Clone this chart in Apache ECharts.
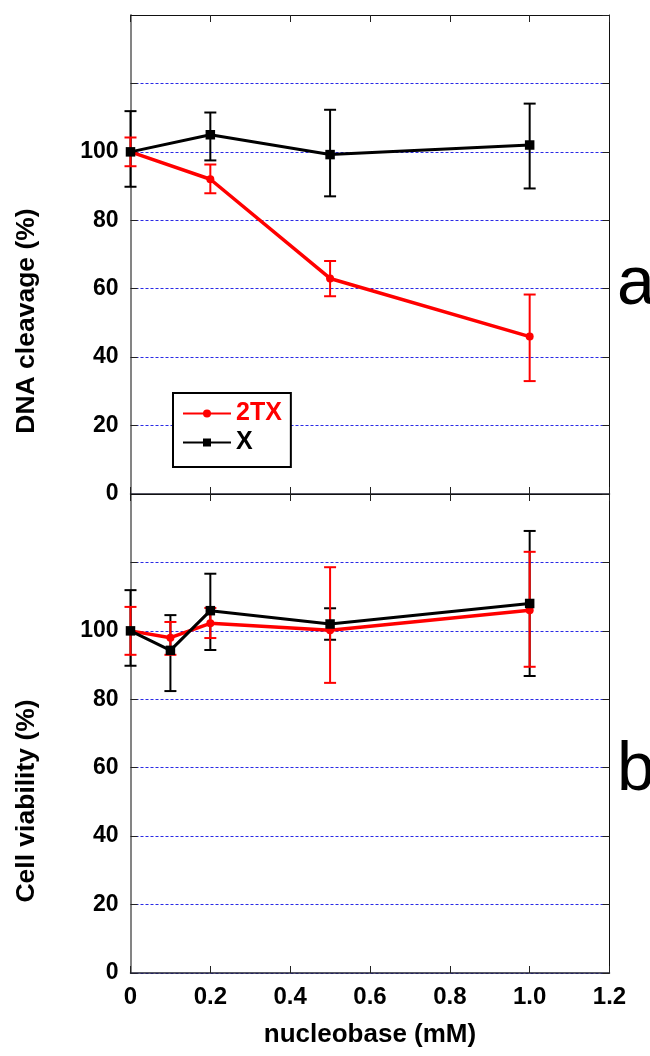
<!DOCTYPE html>
<html>
<head>
<meta charset="utf-8">
<script src="https://cdn.jsdelivr.net/npm/echarts@6/dist/echarts.min.js"></script>
<style>
html,body{margin:0;padding:0;background:#fff;}
#chart{width:650px;height:1056px;}
</style>
</head>
<body>
<div id="chart"></div>
<script>
// ---- data ----
const xTicks = [0, 0.2, 0.4, 0.6, 0.8, 1.0, 1.2];
const xTickLabels = ['0', '0.2', '0.4', '0.6', '0.8', '1.0', '1.2'];
const yTickLabels = [0, 20, 40, 60, 80, 100];

// panel a: DNA cleavage (%)
const concA = [0, 0.2, 0.5, 1.0];
const cleav2TX = [100, 92, 63, 46];
const cleav2TXLow = [95.8, 87.9, 57.8, 33];
const cleav2TXHigh = [104.2, 96.3, 68.1, 58.3];
const cleavX = [100, 105, 99.2, 102];
const cleavXLow = [89.8, 97.5, 87, 89.3];
const cleavXHigh = [111.9, 111.5, 112.3, 114.1];

// panel b: Cell viability (%)
const concB = [0, 0.1, 0.2, 0.5, 1.0];
const viab2TX = [100, 98, 102.2, 100.2, 106];
const viab2TXLow = [93, 93, 97.9, 84.8, 89.5];
const viab2TXHigh = [107, 102.6, 106.7, 118.6, 123.1];
const viabX = [100, 94.3, 105.9, 102, 108];
const viabXLow = [89.8, 82.4, 94.4, 97.4, 86.8];
const viabXHigh = [111.9, 104.6, 116.7, 106.6, 129.2];

const RED = '#ff0000', BLACK = '#000000';
const FONT = '"Liberation Sans", Arial, sans-serif';

function pts(xs, ys) { return xs.map((x, i) => [x, ys[i]]); }
function errPts(xs, lo, hi) { return xs.map((x, i) => [x, lo[i], hi[i]]); }

function errRender(color) {
  return function (params, api) {
    const x = api.value(0), lo = api.value(1), hi = api.value(2);
    const pLo = api.coord([x, lo]), pHi = api.coord([x, hi]);
    const h = 6;
    const st = { stroke: color, lineWidth: 2 };
    return {
      type: 'group',
      children: [
        { type: 'line', shape: { x1: pLo[0], y1: pLo[1], x2: pHi[0], y2: pHi[1] }, style: st },
        { type: 'line', shape: { x1: pLo[0] - h, y1: pLo[1], x2: pLo[0] + h, y2: pLo[1] }, style: st },
        { type: 'line', shape: { x1: pHi[0] - h, y1: pHi[1], x2: pHi[0] + h, y2: pHi[1] }, style: st }
      ]
    };
  };
}

const tickStyle = { show: true, inside: true, length: 7, lineStyle: { color: '#222', width: 1 } };

function xAxisDef(gridIndex, position, showLabels) {
  return {
    type: 'value', gridIndex: gridIndex, position: position,
    min: 0, max: 1.2, interval: 0.2, z: 5,
    axisLine: { show: true, onZero: false, lineStyle: { color: position === 'bottom' ? '#223' : '#111', width: position === 'bottom' ? 1.5 : 1 } },
    axisTick: tickStyle,
    axisLabel: showLabels ? {
      show: true, margin: 12, color: '#000', fontSize: 24, fontWeight: 'bold', fontFamily: FONT,
      formatter: function (v) { const i = xTicks.findIndex(t => Math.abs(t - v) < 1e-6); return i >= 0 ? xTickLabels[i] : ''; }
    } : { show: false },
    splitLine: { show: false }
  };
}

function yAxisDef(gridIndex, position) {
  const left = position === 'left';
  return {
    type: 'value', gridIndex: gridIndex, position: position,
    min: 0, max: 140, interval: 20, z: left ? 1 : 5,
    axisLine: { show: true, onZero: false, lineStyle: { color: left ? '#777' : '#111', width: left ? 1.8 : 1 } },
    axisTick: tickStyle,
    axisLabel: left ? {
      show: true, margin: 12, color: '#000', fontSize: 23, fontWeight: 'bold', fontFamily: FONT,
      formatter: function (v) { return yTickLabels.indexOf(Math.round(v)) >= 0 ? String(Math.round(v)) : ''; }
    } : { show: false },
    splitLine: left ? { show: true, lineStyle: { color: '#2a2ae6', width: 1, type: [3, 2] } } : { show: false }
  };
}

function panelSeries(xi, yi, xs, r, rLo, rHi, k, kLo, kHi) {
  return [
    { type: 'custom', name: 'errX', xAxisIndex: xi, yAxisIndex: yi, renderItem: errRender(BLACK),
      data: errPts(xs, kLo, kHi), encode: { x: 0, y: [1, 2] }, z: 2, silent: true },
    { type: 'custom', name: 'err2TX', xAxisIndex: xi, yAxisIndex: yi, renderItem: errRender(RED),
      data: errPts(xs, rLo, rHi), encode: { x: 0, y: [1, 2] }, z: 3, silent: true },
    { type: 'line', name: '2TX', xAxisIndex: xi, yAxisIndex: yi, data: pts(xs, r),
      symbol: 'circle', symbolSize: 8, lineStyle: { color: RED, width: 3.5 }, itemStyle: { color: RED },
      z: 4, silent: true },
    { type: 'line', name: 'X', xAxisIndex: xi, yAxisIndex: yi, data: pts(xs, k),
      symbol: 'rect', symbolSize: 9.5, lineStyle: { color: BLACK, width: 3 }, itemStyle: { color: BLACK },
      z: 5, silent: true }
  ];
}

const chart = echarts.init(document.getElementById('chart'), null, { renderer: 'canvas' });
const option = {
  animation: false,
  backgroundColor: '#fff',
  grid: [
    { left: 130.5, top: 15, width: 479, height: 479 },
    { left: 130.5, top: 494, width: 479, height: 479 }
  ],
  xAxis: [
    xAxisDef(0, 'bottom', false), xAxisDef(0, 'top', false),
    xAxisDef(1, 'bottom', true), xAxisDef(1, 'top', false)
  ],
  yAxis: [
    yAxisDef(0, 'left'), yAxisDef(0, 'right'),
    yAxisDef(1, 'left'), yAxisDef(1, 'right')
  ],
  legend: {
    show: true, orient: 'vertical', left: 173, top: 393,
    padding: [8, 9, 12, 9], itemGap: 4, itemWidth: 48, itemHeight: 10,
    borderColor: '#000', borderWidth: 2, backgroundColor: '#fff',
    selectedMode: false,
    textStyle: { fontSize: 25, fontWeight: 'bold', fontFamily: FONT },
    data: [
      { name: '2TX', textStyle: { color: RED } },
      { name: 'X', textStyle: { color: BLACK } }
    ]
  },
  graphic: [
    { type: 'text', x: 27, y: 321, rotation: Math.PI / 2,
      style: { text: 'DNA cleavage (%)', fill: '#000', font: 'bold 26.5px ' + FONT, textAlign: 'center', textVerticalAlign: 'middle' } },
    { type: 'text', x: 27, y: 801, rotation: Math.PI / 2,
      style: { text: 'Cell viability (%)', fill: '#000', font: 'bold 26.5px ' + FONT, textAlign: 'center', textVerticalAlign: 'middle' } },
    { type: 'text', x: 370, y: 1035,
      style: { text: 'nucleobase (mM)', fill: '#000', font: 'bold 26px ' + FONT, textAlign: 'center', textVerticalAlign: 'middle' } },
    { type: 'text', x: 617, y: 285,
      style: { text: 'a', fill: '#000', font: '68px ' + FONT, textAlign: 'left', textVerticalAlign: 'middle' } },
    { type: 'text', x: 617, y: 771,
      style: { text: 'b', fill: '#000', font: '68px ' + FONT, textAlign: 'left', textVerticalAlign: 'middle' } }
  ],
  series: [].concat(
    panelSeries(0, 0, concA, cleav2TX, cleav2TXLow, cleav2TXHigh, cleavX, cleavXLow, cleavXHigh),
    panelSeries(2, 2, concB, viab2TX, viab2TXLow, viab2TXHigh, viabX, viabXLow, viabXHigh)
  )
};
chart.setOption(option);
</script>
</body>
</html>
